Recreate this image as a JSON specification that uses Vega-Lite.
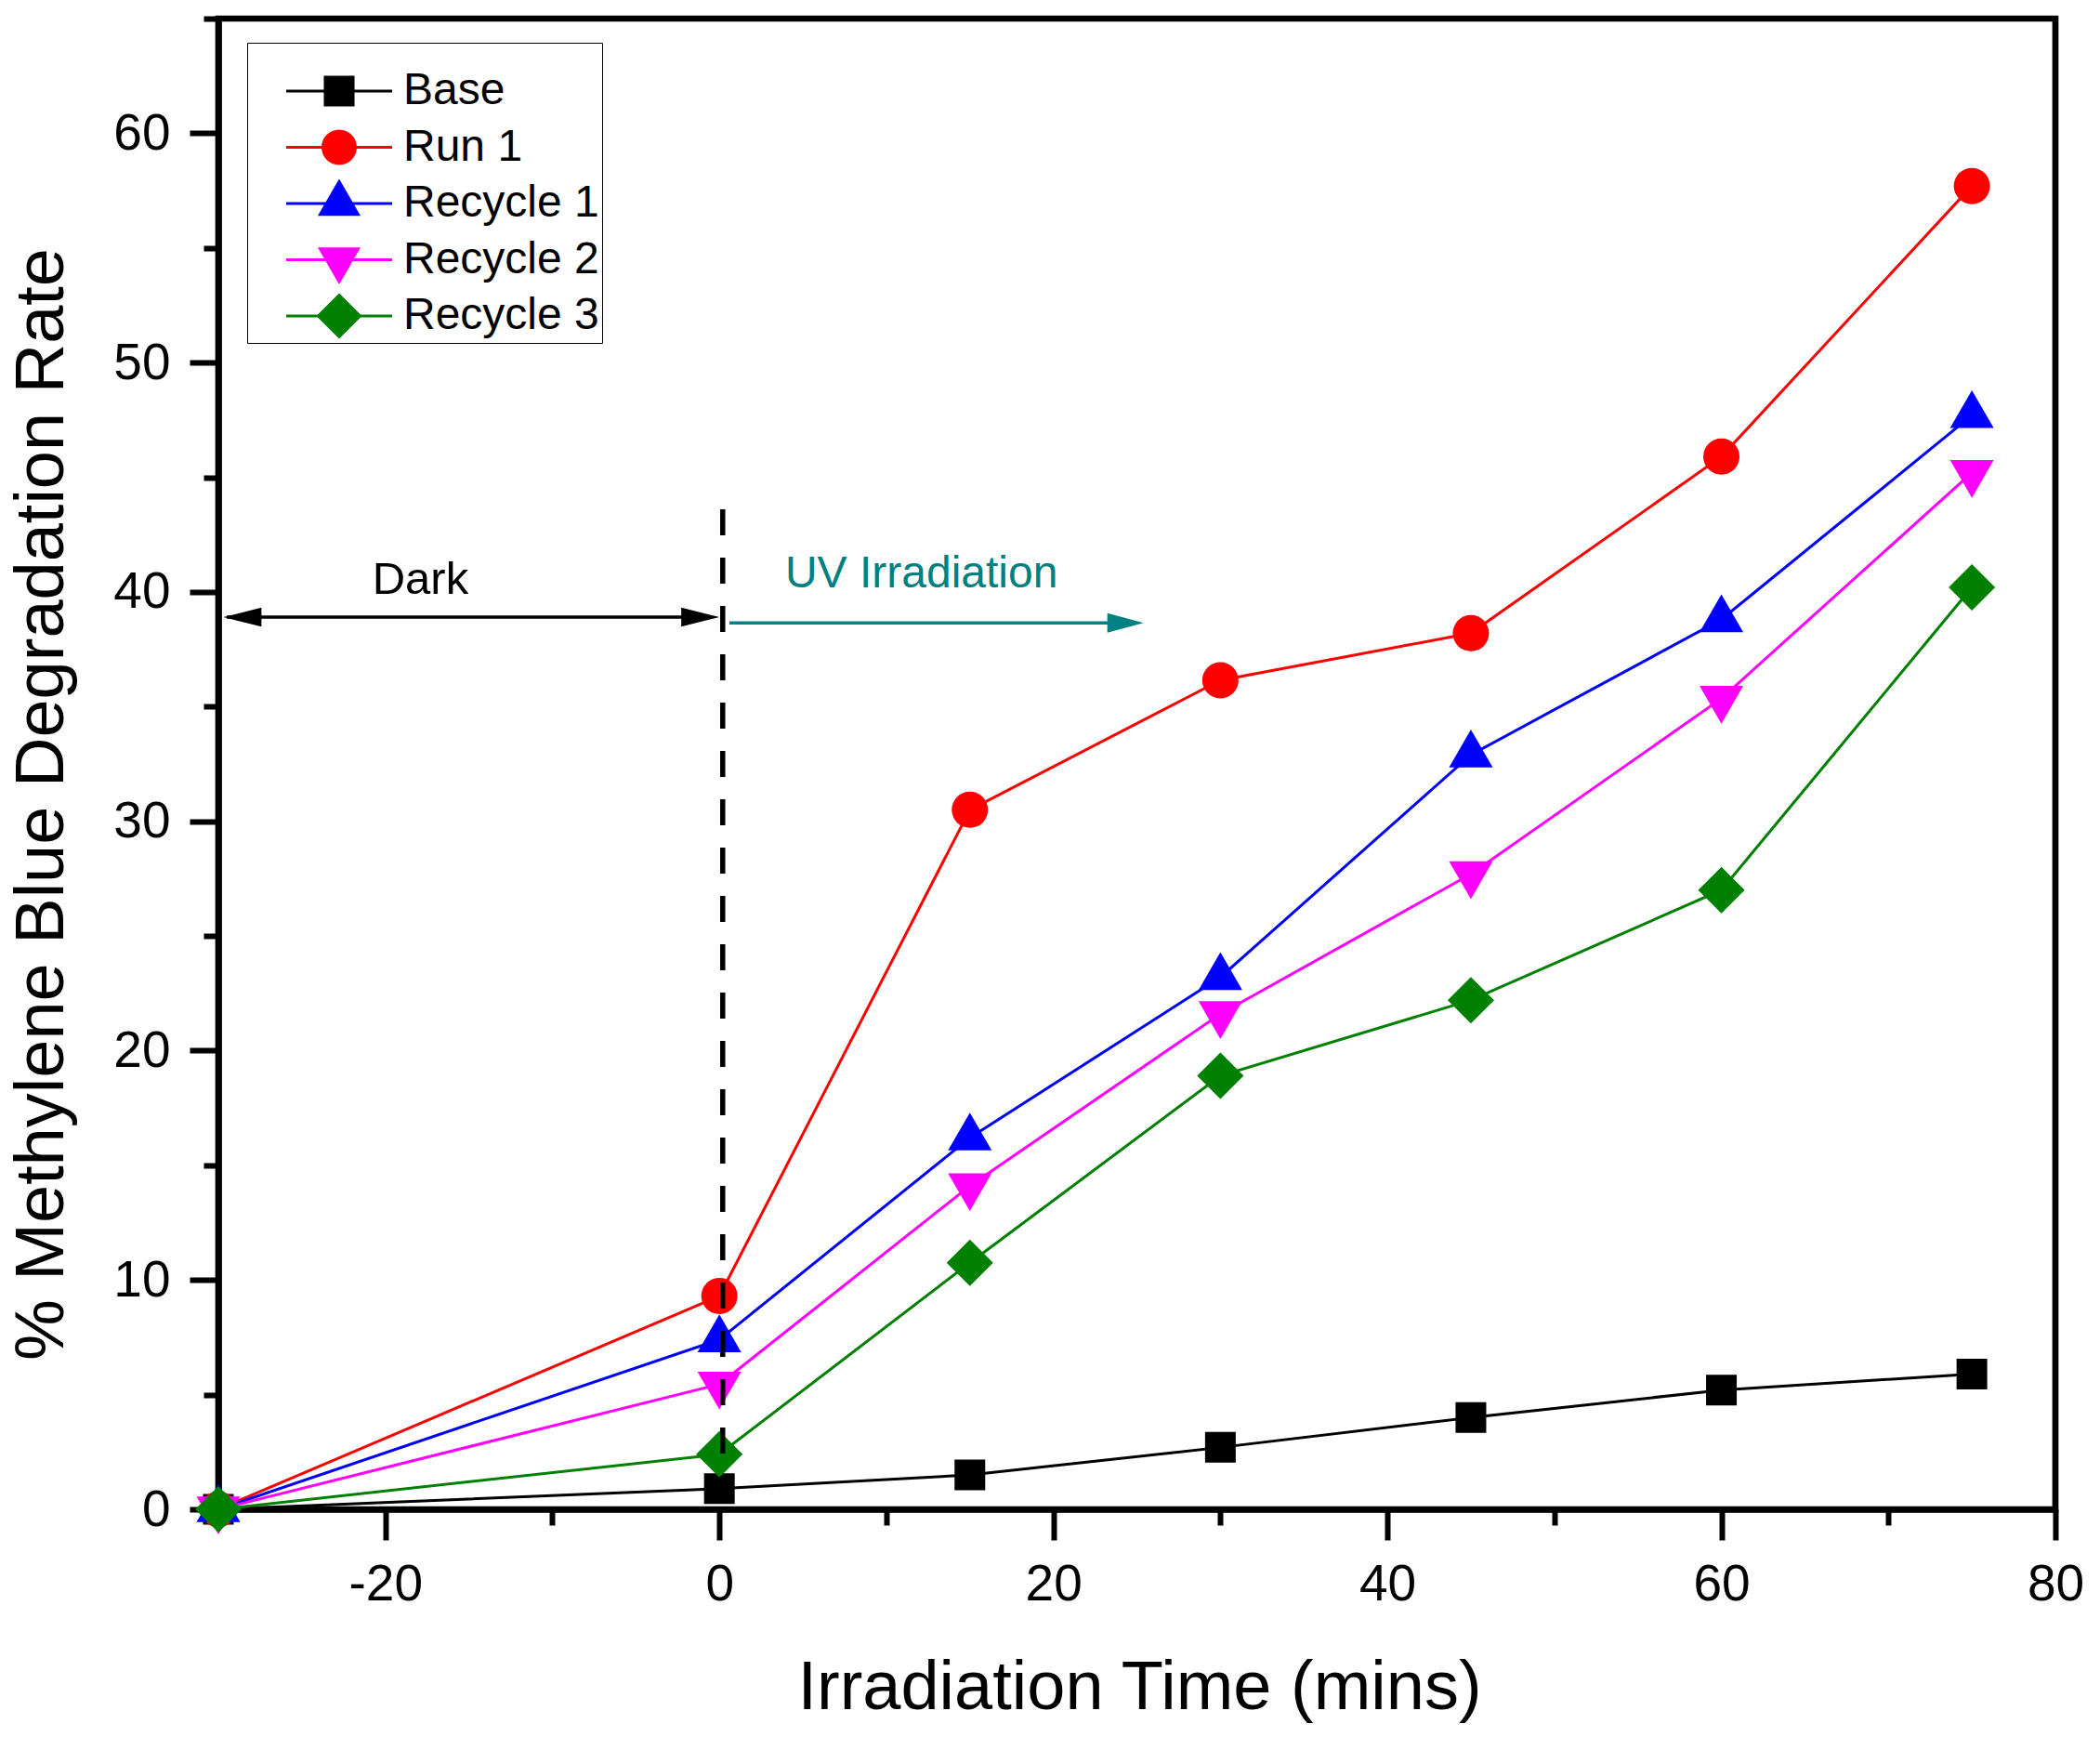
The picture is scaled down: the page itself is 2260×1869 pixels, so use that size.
{
  "$schema": "https://vega.github.io/schema/vega-lite/v6.json",
  "description": "Methylene blue degradation rate versus irradiation time for base, run 1 and three recycles.",
  "width": 1977,
  "height": 1604,
  "autosize": "none",
  "padding": {"left": 235, "top": 20, "right": 48, "bottom": 245},
  "background": "white",
  "config": {
    "font": "Liberation Sans",
    "view": {"stroke": "black", "strokeWidth": 6.7},
    "axis": {
      "grid": false,
      "domainColor": "black",
      "tickColor": "black",
      "labelColor": "black",
      "titleColor": "black",
      "domainWidth": 6.7,
      "tickWidth": 6,
      "labelFontSize": 55,
      "titleFontWeight": "normal",
      "labelFlush": false,
      "labelOverlap": false
    }
  },
  "datasets": {
    "runs": [
      {"series": "Base", "t": -30, "rate": 0},
      {"series": "Base", "t": 0, "rate": 0.9},
      {"series": "Base", "t": 15, "rate": 1.5},
      {"series": "Base", "t": 30, "rate": 2.7},
      {"series": "Base", "t": 45, "rate": 4.0},
      {"series": "Base", "t": 60, "rate": 5.2},
      {"series": "Base", "t": 75, "rate": 5.9},
      {"series": "Run 1", "t": -30, "rate": 0},
      {"series": "Run 1", "t": 0, "rate": 9.3},
      {"series": "Run 1", "t": 15, "rate": 30.5},
      {"series": "Run 1", "t": 30, "rate": 36.15},
      {"series": "Run 1", "t": 45, "rate": 38.2},
      {"series": "Run 1", "t": 60, "rate": 45.9},
      {"series": "Run 1", "t": 75, "rate": 57.7},
      {"series": "Recycle 1", "t": -30, "rate": 0},
      {"series": "Recycle 1", "t": 0, "rate": 7.4},
      {"series": "Recycle 1", "t": 15, "rate": 16.2},
      {"series": "Recycle 1", "t": 30, "rate": 23.2},
      {"series": "Recycle 1", "t": 45, "rate": 32.9},
      {"series": "Recycle 1", "t": 60, "rate": 38.8},
      {"series": "Recycle 1", "t": 75, "rate": 47.7},
      {"series": "Recycle 2", "t": -30, "rate": 0},
      {"series": "Recycle 2", "t": 0, "rate": 5.45},
      {"series": "Recycle 2", "t": 15, "rate": 14.1},
      {"series": "Recycle 2", "t": 30, "rate": 21.6},
      {"series": "Recycle 2", "t": 45, "rate": 27.7},
      {"series": "Recycle 2", "t": 60, "rate": 35.35},
      {"series": "Recycle 2", "t": 75, "rate": 45.2},
      {"series": "Recycle 3", "t": -30, "rate": 0},
      {"series": "Recycle 3", "t": 0, "rate": 2.4},
      {"series": "Recycle 3", "t": 15, "rate": 10.75},
      {"series": "Recycle 3", "t": 30, "rate": 18.9},
      {"series": "Recycle 3", "t": 45, "rate": 22.2},
      {"series": "Recycle 3", "t": 60, "rate": 27.0},
      {"series": "Recycle 3", "t": 75, "rate": 40.2}
    ],
    "divider": [{"t": 0.2, "rate": 43.6, "rate2": 0}],
    "darkArrow": [{"t": -29.5, "t2": -0.5, "rate": 38.9}],
    "darkHeadLeft": [{"t": -29.7, "rate": 38.9}],
    "darkHeadRight": [{"t": 0, "rate": 38.9}],
    "uvArrow": [{"t": 0.6, "t2": 24.5, "rate": 38.65}],
    "uvHead": [{"t": 25.4, "rate": 38.65}],
    "darkLabel": [{"t": -17.9, "rate": 39.9, "text": "Dark"}],
    "uvLabel": [{"t": 12.1, "rate": 40.2, "text": "UV Irradiation"}]
  },
  "resolve": {
    "axis": {"x": "independent", "y": "independent"},
    "scale": {"color": "independent", "shape": "independent"}
  },
  "layer": [
    {
      "data": {"name": "runs"},
      "mark": {"type": "point", "filled": true, "opacity": 0},
      "encoding": {
        "x": {"field": "t", "type": "quantitative", "axis": null},
        "y": {"field": "rate", "type": "quantitative", "axis": null},
        "color": {
          "field": "series",
          "type": "nominal",
          "scale": {
            "domain": ["Base", "Run 1", "Recycle 1", "Recycle 2", "Recycle 3"],
            "range": ["#000000", "#ff0000", "#0000ff", "#ff00ff", "#008000"]
          },
          "legend": {
            "title": " ",
            "titleFontSize": 10,
            "titlePadding": 13,
            "orient": "none",
            "legendX": 31,
            "legendY": 26,
            "padding": 3,
            "strokeColor": "black",
            "symbolSize": 12996,
            "symbolStrokeWidth": 0,
            "symbolOpacity": 1,
            "symbolOffset": 39,
            "clipHeight": 52,
            "rowPadding": 8.5,
            "labelFontSize": 48,
            "labelOffset": 12,
            "labelLimit": 500,
            "labelColor": "black",
            "labelExpr": "datum.label + '\u00a0'"
          }
        },
        "shape": {
          "field": "series",
          "type": "nominal",
          "scale": {
            "domain": ["Base", "Run 1", "Recycle 1", "Recycle 2", "Recycle 3"],
            "range": [
              "M-1,-0.026H1V0.026H-1ZM-0.29,-0.29H0.29V0.29H-0.29Z",
              "M-1,-0.026H1V0.026H-1ZM-0.333,0A0.333,0.333,0,1,1,0.333,0A0.333,0.333,0,1,1,-0.333,0Z",
              "M-1,-0.026H1V0.026H-1ZM0,-0.467L0.404,0.233L-0.404,0.233Z",
              "M-1,-0.026H1V0.026H-1ZM0,0.467L-0.404,-0.233L0.404,-0.233Z",
              "M-1,-0.026H1V0.026H-1ZM0,-0.43L0.43,0L0,0.43L-0.43,0Z"
            ]
          },
          "legend": {
            "title": " ",
            "titleFontSize": 10,
            "titlePadding": 13,
            "orient": "none",
            "legendX": 31,
            "legendY": 26,
            "padding": 3,
            "strokeColor": "black",
            "symbolSize": 12996,
            "symbolStrokeWidth": 0,
            "symbolOpacity": 1,
            "symbolOffset": 39,
            "clipHeight": 52,
            "rowPadding": 8.5,
            "labelFontSize": 48,
            "labelOffset": 12,
            "labelLimit": 500,
            "labelColor": "black",
            "labelExpr": "datum.label + '\u00a0'"
          }
        }
      }
    },
    {
      "data": {"name": "runs"},
      "mark": {"type": "line", "strokeWidth": 3},
      "encoding": {
        "x": {
          "field": "t",
          "type": "quantitative",
          "scale": {"domain": [-30, 80], "nice": false, "zero": false},
          "axis": {
            "orient": "bottom",
            "values": [-20, 0, 20, 40, 60, 80],
            "labelExpr": "'' + datum.value",
            "tickSize": 33,
            "labelPadding": 21,
            "title": "Irradiation Time (mins)",
            "titleFontSize": 74,
            "titleX": 991,
            "titleY": 214,
            "titleBaseline": "alphabetic"
          }
        },
        "y": {
          "field": "rate",
          "type": "quantitative",
          "scale": {"domain": [0, 65], "nice": false},
          "axis": {
            "orient": "left",
            "values": [0, 10, 20, 30, 40, 50, 60],
            "tickSize": 31,
            "labelPadding": 21,
            "title": "% Methylene Blue Degradation Rate",
            "titleFontSize": 74,
            "titleAngle": -90,
            "titleAlign": "center",
            "titleBaseline": "alphabetic",
            "titleX": -168,
            "titleY": 845
          }
        },
        "color": {
          "field": "series",
          "type": "nominal",
          "scale": {
            "domain": ["Base", "Run 1", "Recycle 1", "Recycle 2", "Recycle 3"],
            "range": ["#000000", "#ff0000", "#0000ff", "#ff00ff", "#008000"]
          },
          "legend": null
        }
      }
    },
    {
      "data": {"name": "runs"},
      "mark": {"type": "point", "filled": true, "opacity": 1, "strokeWidth": 0},
      "encoding": {
        "x": {"field": "t", "type": "quantitative", "axis": null},
        "y": {"field": "rate", "type": "quantitative", "axis": null},
        "color": {
          "field": "series",
          "type": "nominal",
          "scale": {
            "domain": ["Base", "Run 1", "Recycle 1", "Recycle 2", "Recycle 3"],
            "range": ["#000000", "#ff0000", "#0000ff", "#ff00ff", "#008000"]
          },
          "legend": null
        },
        "shape": {
          "field": "series",
          "type": "nominal",
          "scale": {
            "domain": ["Base", "Run 1", "Recycle 1", "Recycle 2", "Recycle 3"],
            "range": ["square", "circle", "M0,-1.15L1,0.58L-1,0.58Z", "M0,1.15L1,-0.58L-1,-0.58Z", "diamond"]
          },
          "legend": null
        },
        "size": {
          "field": "series",
          "type": "nominal",
          "scale": {
            "type": "ordinal",
            "domain": ["Base", "Run 1", "Recycle 1", "Recycle 2", "Recycle 3"],
            "range": [1089, 1521, 2209, 2209, 2500]
          },
          "legend": null
        }
      }
    },
    {
      "data": {"name": "divider"},
      "mark": {"type": "rule", "color": "black", "strokeWidth": 5.5, "strokeDash": [28, 24]},
      "encoding": {
        "x": {
          "field": "t",
          "type": "quantitative",
          "axis": {
            "orient": "bottom",
            "values": [-30, -10, 10, 30, 50, 70],
            "tickSize": 17,
            "labels": false,
            "domain": false,
            "title": null
          }
        },
        "y": {
          "field": "rate",
          "type": "quantitative",
          "axis": {
            "orient": "left",
            "values": [5, 15, 25, 35, 45, 55, 65],
            "tickSize": 16,
            "labels": false,
            "domain": false,
            "title": null
          }
        },
        "y2": {"field": "rate2"}
      }
    },
    {
      "data": {"name": "darkArrow"},
      "mark": {"type": "rule", "color": "black", "strokeWidth": 3.5},
      "encoding": {
        "x": {"field": "t", "type": "quantitative", "axis": null},
        "x2": {"field": "t2"},
        "y": {"field": "rate", "type": "quantitative", "axis": null}
      }
    },
    {
      "data": {"name": "darkHeadLeft"},
      "mark": {"type": "point", "shape": "M0,0L2,-0.5L2,0.5Z", "size": 1681, "filled": true, "color": "black", "opacity": 1, "strokeWidth": 0},
      "encoding": {
        "x": {"field": "t", "type": "quantitative", "axis": null},
        "y": {"field": "rate", "type": "quantitative", "axis": null}
      }
    },
    {
      "data": {"name": "darkHeadRight"},
      "mark": {"type": "point", "shape": "M0,0L-2,-0.5L-2,0.5Z", "size": 1681, "filled": true, "color": "black", "opacity": 1, "strokeWidth": 0},
      "encoding": {
        "x": {"field": "t", "type": "quantitative", "axis": null},
        "y": {"field": "rate", "type": "quantitative", "axis": null}
      }
    },
    {
      "data": {"name": "uvArrow"},
      "mark": {"type": "rule", "color": "#008080", "strokeWidth": 3.5},
      "encoding": {
        "x": {"field": "t", "type": "quantitative", "axis": null},
        "x2": {"field": "t2"},
        "y": {"field": "rate", "type": "quantitative", "axis": null}
      }
    },
    {
      "data": {"name": "uvHead"},
      "mark": {"type": "point", "shape": "M0,0L-2,-0.54L-2,0.54Z", "size": 1521, "filled": true, "color": "#008080", "opacity": 1, "strokeWidth": 0},
      "encoding": {
        "x": {"field": "t", "type": "quantitative", "axis": null},
        "y": {"field": "rate", "type": "quantitative", "axis": null}
      }
    },
    {
      "data": {"name": "darkLabel"},
      "mark": {"type": "text", "fontSize": 49, "color": "black", "align": "center", "baseline": "alphabetic"},
      "encoding": {
        "x": {"field": "t", "type": "quantitative", "axis": null},
        "y": {"field": "rate", "type": "quantitative", "axis": null},
        "text": {"field": "text"}
      }
    },
    {
      "data": {"name": "uvLabel"},
      "mark": {"type": "text", "fontSize": 48, "color": "#008080", "align": "center", "baseline": "alphabetic"},
      "encoding": {
        "x": {"field": "t", "type": "quantitative", "axis": null},
        "y": {"field": "rate", "type": "quantitative", "axis": null},
        "text": {"field": "text"}
      }
    }
  ]
}
